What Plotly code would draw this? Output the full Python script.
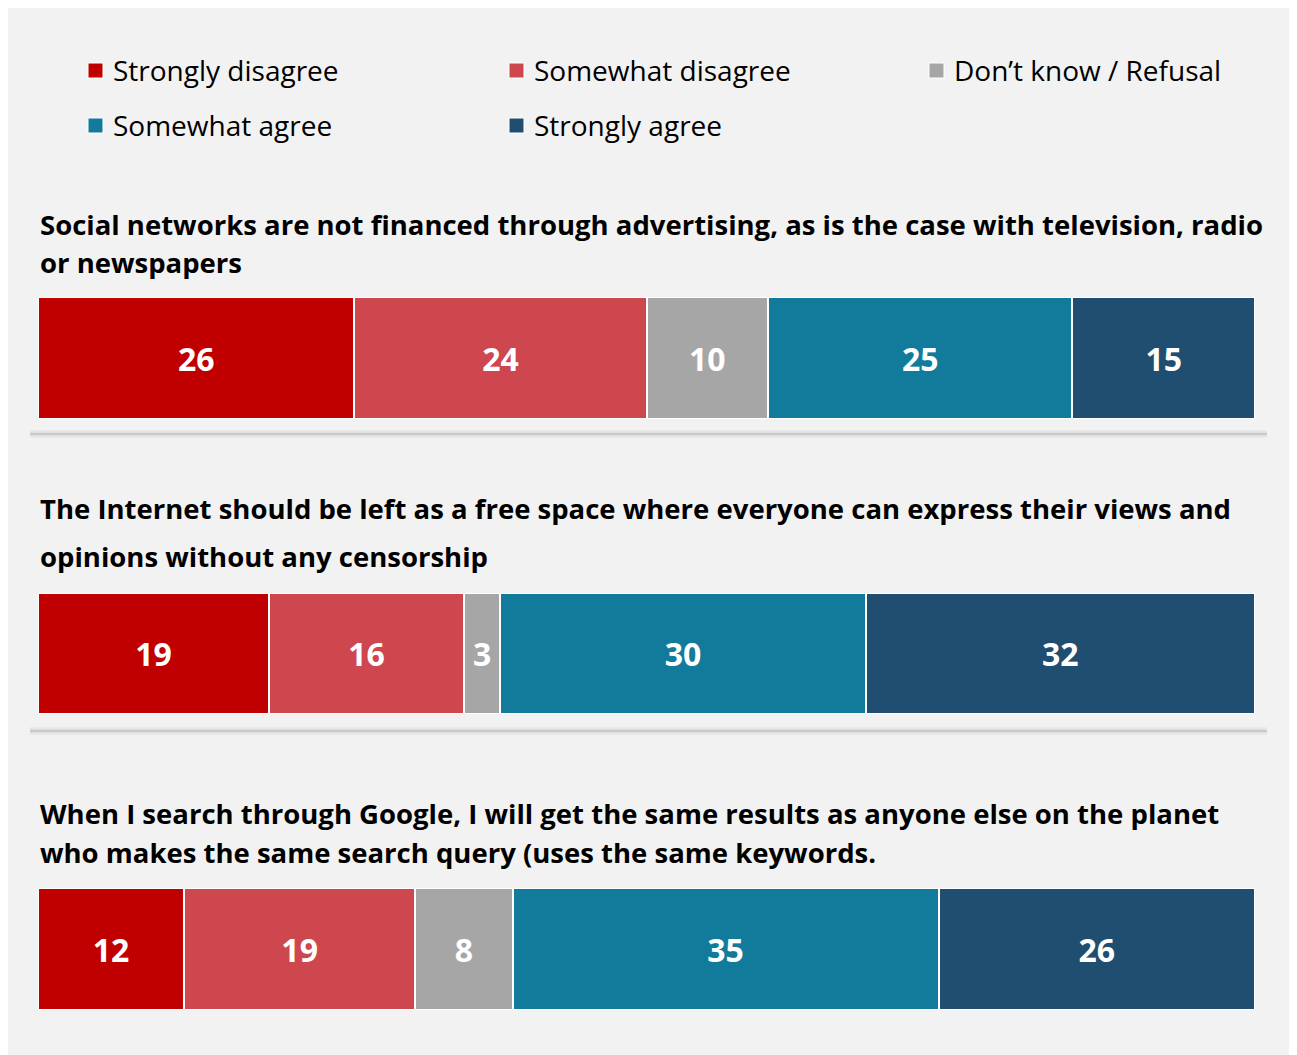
import plotly.graph_objects as go

# Answer categories and palette
CATEGORIES = [
    "Strongly disagree",
    "Somewhat disagree",
    "Don\u2019t know / Refusal",
    "Somewhat agree",
    "Strongly agree",
]
COLORS = ["#c00000", "#cf474e", "#a6a6a6", "#127b9b", "#204e70"]

# Statements (one list of title lines each) and their shares in %
STATEMENT_LINES = [
    ["Social networks are not financed through advertising, as is the case with television, radio",
     "or newspapers"],
    ["The Internet should be left as a free space where everyone can express their views and",
     "opinions without any censorship"],
    ["When I search through Google, I will get the same results as anyone else on the planet",
     "who makes the same search query (uses the same keywords."],
]
SOCIAL_NETWORKS = [26, 24, 10, 25, 15]
FREE_INTERNET = [19, 16, 3, 30, 32]
SAME_GOOGLE = [12, 19, 8, 35, 26]
ROWS = [SOCIAL_NETWORKS, FREE_INTERNET, SAME_GOOGLE]

# page geometry (the page body adds an 8px margin around the figure)
PAGE_W, PAGE_H = 1297, 1055
OFF = 8
W, H = PAGE_W - OFF, PAGE_H - OFF
LEFT, RIGHT = 38, 1255  # page px of the bar extent
BG = "#f2f2f2"
FONT = "Open Sans"

# page-pixel layout of the three blocks (bar top/bottom, title line centres)
BAR_PX = [(297, 419), (593, 714), (888, 1010)]
TITLE_PX = [(224, 263), (509, 556), (813, 852)]
SEPARATOR_PX = [434, 731]


def px_y(y):
    return 1 - (y - OFF) / H


def px_x(x):
    return (x - LEFT) / (RIGHT - LEFT)


fig = go.Figure()
layout_axes = {}
annotations = []
shapes = []

for i, values in enumerate(ROWS):
    n = "" if i == 0 else str(i + 1)
    for cat, val, color in zip(CATEGORIES, values, COLORS):
        fig.add_trace(
            go.Bar(
                x=[val],
                y=[0],
                orientation="h",
                name=cat,
                width=1,
                marker=dict(color=color, line=dict(color="white", width=2)),
                text=[str(val)],
                textposition="inside",
                insidetextanchor="middle",
                constraintext="none",
                textfont=dict(color="white", size=32, family=FONT, weight="bold"),
                showlegend=False,
                xaxis="x" + n,
                yaxis="y" + n,
                hovertemplate=f"{cat}: %{{x}}%<extra></extra>",
            )
        )
    top, bottom = BAR_PX[i]
    layout_axes["xaxis" + n] = dict(
        domain=[0, 1], range=[0, 100], visible=False, fixedrange=True,
        anchor="y" + n,
    )
    layout_axes["yaxis" + n] = dict(
        domain=[px_y(bottom), px_y(top)], range=[-0.5, 0.5], visible=False,
        fixedrange=True, anchor="x" + n,
    )
    for line, yc in zip(STATEMENT_LINES[i], TITLE_PX[i]):
        annotations.append(dict(
            text=line, x=0, y=px_y(yc), xref="paper", yref="paper",
            xanchor="left", yanchor="middle", showarrow=False,
            font=dict(family=FONT, size=27.5, color="black", weight="bold"),
        ))

# separators with a soft shadow
for y in SEPARATOR_PX:
    for width, color in [(8, "rgba(0,0,0,0.03)"), (5, "rgba(0,0,0,0.04)"), (2, "#c9c9c9")]:
        shapes.append(dict(
            type="line", xref="paper", yref="paper",
            x0=px_x(30), x1=px_x(1267), y0=px_y(y), y1=px_y(y),
            line=dict(color=color, width=width),
        ))

# legend built from the category list
LEGEND_COLS = [88, 509, 929]
LEGEND_ROWS = [70, 125]
for k, (cat, color) in enumerate(zip(CATEGORIES, COLORS)):
    cx = LEGEND_COLS[k % 3]
    cy = LEGEND_ROWS[k // 3]
    shapes.append(dict(
        type="rect", xref="paper", yref="paper",
        x0=px_x(cx), x1=px_x(cx + 15), y0=px_y(cy + 8), y1=px_y(cy - 7),
        fillcolor=color, line=dict(color="white", width=1),
    ))
    annotations.append(dict(
        text=cat, x=px_x(cx + 23), y=px_y(cy), xref="paper", yref="paper",
        xanchor="left", yanchor="middle", showarrow=False,
        font=dict(family=FONT, size=28, color="black"),
    ))

fig.update_layout(
    **layout_axes,
    barmode="stack",
    width=W,
    height=H,
    margin=dict(l=LEFT - OFF, r=W - (RIGHT - OFF), t=0, b=0),
    paper_bgcolor=BG,
    plot_bgcolor="rgba(0,0,0,0)",
    annotations=annotations,
    shapes=shapes,
    showlegend=False,
)

fig.write_html("out.html")
